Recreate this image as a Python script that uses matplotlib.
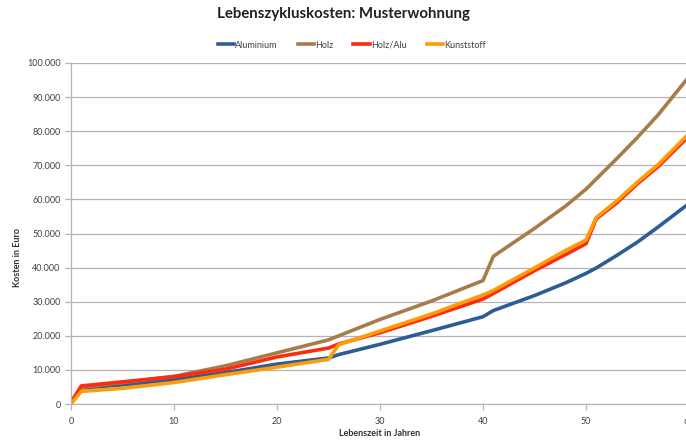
import numpy as np
import matplotlib
matplotlib.use('agg')
import matplotlib.pyplot as plt
from matplotlib.ticker import FuncFormatter, MultipleLocator

# years (values in Euro)
jahre = [0, 1, 5, 10, 15, 20, 25, 26, 30, 35, 40, 41, 45, 48, 50, 51, 53, 55, 57, 60]

aluminium = [500, 4700, 5600, 7100, 9200, 11700, 13500, 14500, 17500, 21500,
             25600, 27400, 31800, 35500, 38300, 39900, 43600, 47500, 51900, 58800]
holz = [500, 4900, 6300, 8100, 11200, 15000, 18800, 20000, 24800, 30200,
        36200, 43300, 51500, 58000, 63000, 66000, 72000, 78200, 84800, 96000]
holz_alu = [500, 5300, 6500, 8000, 10200, 13800, 16400, 17600, 20900, 25700,
            30800, 32400, 39100, 43800, 47000, 54300, 59000, 64600, 69600, 78600]
kunststoff = [0, 3700, 4600, 6300, 8600, 10800, 13100, 17400, 21400, 26400,
              32000, 33300, 39900, 45000, 48100, 54700, 59600, 65100, 70200, 79300]

serien = ['Aluminium', 'Holz', 'Holz/Alu', 'Kunststoff']
farben = ['#2c5d96', '#a87c4a', '#ff2a0c', '#ff9c0a']

plt.rcParams['font.family'] = ['Lato', 'DejaVu Sans']

fig = plt.figure(figsize=(6.86, 4.41), dpi=100)
# right edge sits a bit past the image, like the cropped original
ax = fig.add_axes([71 / 686, 37 / 441, 618 / 686, 341 / 441])

for name, werte, farbe in zip(serien, [aluminium, holz, holz_alu, kunststoff], farben):
    ax.plot(jahre, werte, color=farbe, lw=2.6, label=name)

ax.set_xlim(0, 60)
ax.set_ylim(0, 100000)
ax.xaxis.set_major_locator(MultipleLocator(10))
ax.yaxis.set_major_locator(MultipleLocator(10000))
ax.yaxis.set_major_formatter(FuncFormatter(lambda v, p: '{:,.0f}'.format(v).replace(',', '.')))

ax.grid(axis='y', color='#b4b4b4', lw=0.9)
ax.set_axisbelow(True)
for s in ['top', 'right']:
    ax.spines[s].set_visible(False)
for s in ['left', 'bottom']:
    ax.spines[s].set_color('#b4b4b4')
    ax.spines[s].set_linewidth(0.9)
ax.tick_params(axis='both', colors='#b4b4b4', labelcolor='#404040', labelsize=6.5,
               length=4, width=0.9)
ax.tick_params(axis='x', pad=5)

ax.set_ylabel('Kosten in Euro', fontsize=6.5, fontweight='bold', color='#303030')
ax.yaxis.set_label_coords(-0.079, 0.43)
ax.set_xlabel('Lebenszeit in Jahren', fontsize=6.5, fontweight='bold', color='#303030')
ax.xaxis.set_label_coords(0.5, -0.073)

fig.suptitle('Lebenszykluskosten: Musterwohnung', x=0.5, y=0.985, fontsize=10.8,
             fontweight='bold', color='#202020')
fig.legend(loc='center', bbox_to_anchor=(0.513, 1 - 45 / 441), ncol=4, frameon=False,
           fontsize=6.5, handlelength=1.8, columnspacing=2.2, handletextpad=0.15,
           labelcolor='#404040')

fig.savefig('out.png', dpi=100)
